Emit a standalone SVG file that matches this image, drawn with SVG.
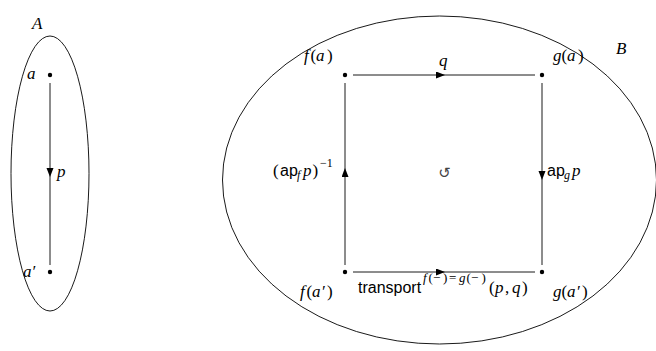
<svg xmlns="http://www.w3.org/2000/svg" width="656" height="351" viewBox="0 0 656 351">
<style>
.m{font-family:"Liberation Serif","DejaVu Serif",serif;font-size:17px;fill:#000}
.i{font-style:italic}
.s{font-family:"Liberation Sans","DejaVu Sans",sans-serif;font-size:16px;fill:#000}
.sub{font-size:12px}
.sup{font-size:13px}
.ln{fill:none;stroke:#000;stroke-width:0.9}
.dot{fill:#000}
.reg{fill:none;stroke:#000;stroke-width:0.9}
.sym{font-family:"DejaVu Sans",sans-serif;font-size:15px;fill:#444}
</style>
<defs>
<marker id="ah" markerUnits="userSpaceOnUse" markerWidth="10" markerHeight="8" refX="9" refY="3.5" orient="auto">
<path d="M0,0 L9,3.5 L0,7 z" fill="#000"/>
</marker>
</defs>

<g id="regionA">
<ellipse class="reg" cx="50" cy="173.5" rx="39" ry="137.5"/>
<text class="m i" x="32" y="29">A</text>
</g>
<g id="regionB">
<ellipse class="reg" cx="439.5" cy="180" rx="217" ry="164"/>
<text class="m i" x="616" y="54">B</text>
</g>

<g id="node-a">
<circle class="dot" cx="50" cy="75" r="2.2"/>
<text class="m i" x="27" y="79">a</text>
</g>
<g id="node-a1">
<circle class="dot" cx="50" cy="272" r="2.2"/>
<text class="m i" x="23" y="277">a′</text>
</g>
<g id="node-fa">
<circle class="dot" cx="345" cy="75" r="2.2"/>
<text class="m" y="61"><tspan class="i" x="304">f</tspan><tspan x="310.5">(</tspan><tspan class="i" x="316">a</tspan><tspan x="327">)</tspan></text>
</g>
<g id="node-ga">
<circle class="dot" cx="542" cy="75" r="2.2"/>
<text class="m" y="61"><tspan class="i" x="553">g</tspan><tspan x="561.5">(</tspan><tspan class="i" x="567">a</tspan><tspan x="578">)</tspan></text>
</g>
<g id="node-fa1">
<circle class="dot" cx="345" cy="272" r="2.2"/>
<text class="m" y="297"><tspan class="i" x="300">f</tspan><tspan x="306.5">(</tspan><tspan class="i" x="312">a</tspan><tspan class="i" x="321">′</tspan><tspan x="327">)</tspan></text>
</g>
<g id="node-ga1">
<circle class="dot" cx="542" cy="272" r="2.2"/>
<text class="m" y="297"><tspan class="i" x="553">g</tspan><tspan x="561.5">(</tspan><tspan class="i" x="567">a</tspan><tspan class="i" x="576">′</tspan><tspan x="582">)</tspan></text>
</g>
<g id="center-symbol">
<text class="sym" x="444.5" y="177.5" text-anchor="middle">↺</text>
</g>

<g id="connectors">
<path class="ln" d="M50,83 L50,177 L50,265" marker-mid="url(#ah)"/>
<text class="m i" x="57" y="177">p</text>

<path class="ln" d="M353,75 L445,75 L535,75" marker-mid="url(#ah)"/>
<text class="m i" x="439" y="66">q</text>

<path class="ln" d="M345,265 L345,168 L345,83" marker-mid="url(#ah)"/>
<text y="176"><tspan class="m" x="273">(</tspan><tspan class="s" x="280">ap</tspan><tspan class="m i sub" x="297" y="179">f</tspan><tspan class="m i" x="303" y="176">p</tspan><tspan class="m" x="312.5">)</tspan><tspan class="m sub" x="320" y="167">−1</tspan></text>

<path class="ln" d="M542,83 L542,180 L542,265" marker-mid="url(#ah)"/>
<text y="176"><tspan class="s" x="547">ap</tspan><tspan class="m i sub" x="564" y="179">g</tspan><tspan class="m i" x="572" y="176">p</tspan></text>

<path class="ln" d="M353,272 L445,272 L535,272" marker-mid="url(#ah)"/>
<text y="293"><tspan class="s" x="358">transport</tspan><tspan class="m sup" y="282"><tspan class="i" x="423">f</tspan><tspan x="428.5">(</tspan><tspan x="433">−</tspan><tspan x="443">)</tspan><tspan x="449">=</tspan><tspan class="i" x="459">g</tspan><tspan x="466.5">(</tspan><tspan x="471">−</tspan><tspan x="481.5">)</tspan></tspan><tspan class="m" y="293"><tspan x="489">(</tspan><tspan class="i" x="495">p</tspan><tspan x="505">,</tspan><tspan class="i" x="512">q</tspan><tspan x="522">)</tspan></tspan></text>
</g>
</svg>
